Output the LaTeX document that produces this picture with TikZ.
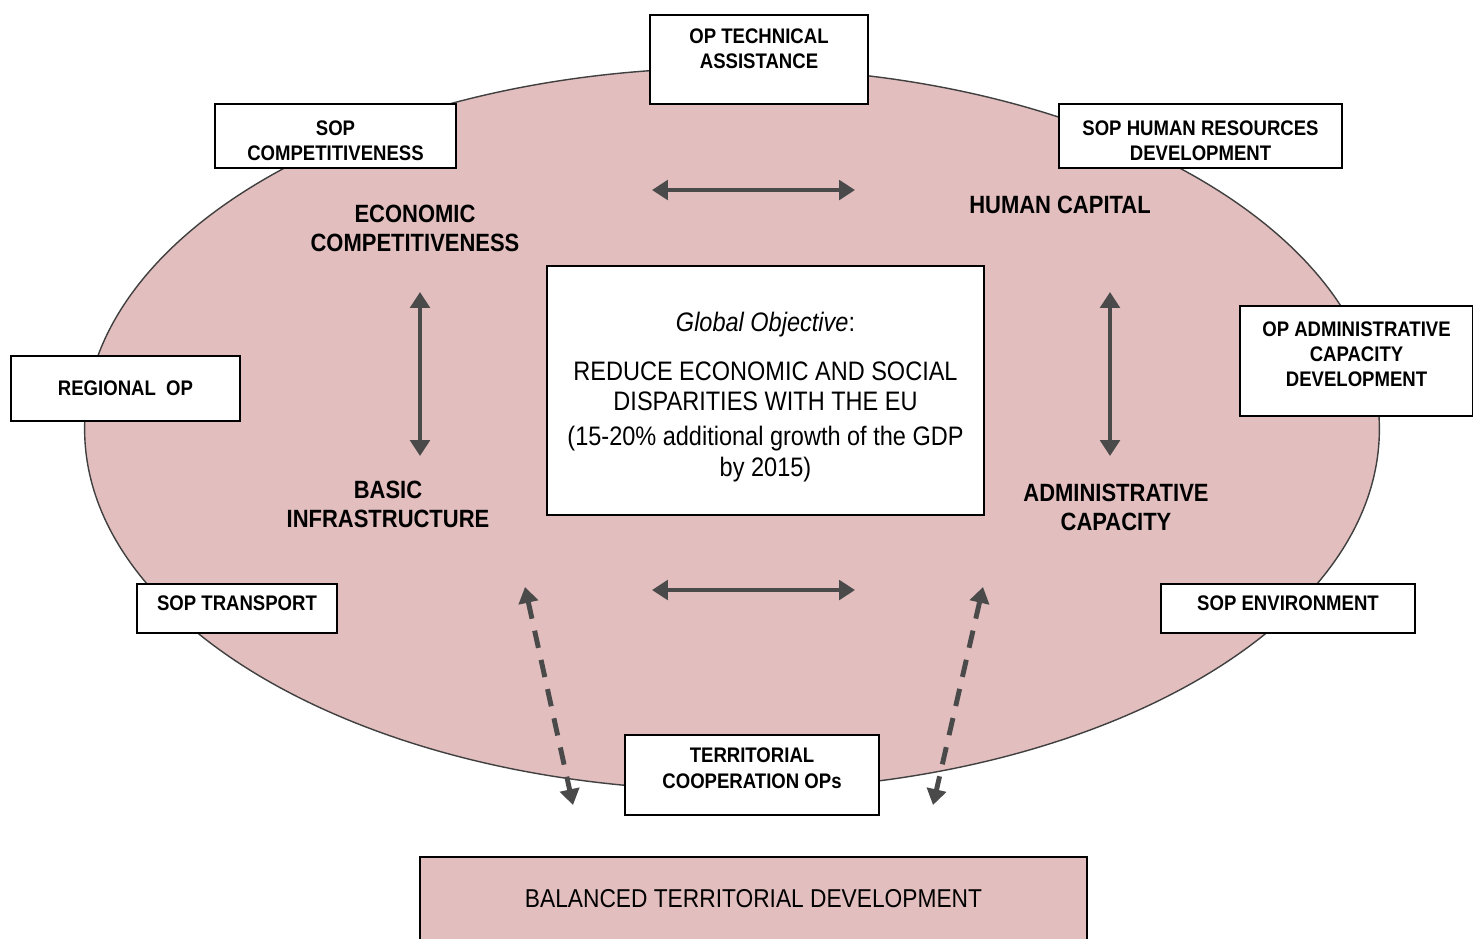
\documentclass[tikz,border=0pt]{standalone}
\usepackage{fontspec}
\setmainfont{Liberation Sans}[FakeStretch=0.88]
\usetikzlibrary{arrows.meta, shapes.geometric}
\definecolor{ovalpink}{HTML}{E2BEBE}
\definecolor{arrowgray}{HTML}{4A4A4A}
\newcommand{\topgap}[1]{\rule{0pt}{#1}}

\begin{document}
\begin{tikzpicture}[
    x=0.01cm, y=-0.01cm,
    opbox/.style={rectangle, draw=black, line width=0.6pt, fill=white, align=center, inner sep=0pt, font=\fontsize{6}{7.2}\selectfont\bfseries},
    goalbox/.style={rectangle, draw=black, line width=0.7pt, fill=white, align=center, inner sep=0pt, minimum width=4.37cm, minimum height=2.49cm, font=\fontsize{7.6}{8.8}\selectfont},
    pillar/.style={align=center, font=\fontsize{7.1}{8.3}\selectfont\bfseries},
    dblarrow/.style={{Triangle[length=4.5pt,width=5.5pt]}-{Triangle[length=4.5pt,width=5.5pt]}, line width=1.4pt, draw=arrowgray},
    dasharrow/.style={dblarrow, dash pattern=on 5pt off 3.5pt}
]
\useasboundingbox (0,0) rectangle (1473,938);
\clip (0,0) rectangle (1473,938);

% Oval
\node[ellipse, draw=black!75, line width=0.4pt, fill=ovalpink, minimum width=12.94cm, minimum height=7.22cm, inner sep=0pt] (oval) at (732,429) {};

% Nodes
\node[goalbox] (goal) at (765.5,390.5) {\topgap{9.1pt}\textit{Global Objective}:\\[5pt]
  REDUCE ECONOMIC AND SOCIAL\\ DISPARITIES WITH THE EU\\[0.9pt]
  (15-20\% additional growth of the GDP\\ by 2015)};

\node[pillar] (econ) at (415,228) {ECONOMIC\\COMPETITIVENESS};
\node[pillar] (human) at (1060,205) {HUMAN CAPITAL};
\node[pillar] (infra) at (388,504) {BASIC\\INFRASTRUCTURE};
\node[pillar] (admin) at (1116,507) {ADMINISTRATIVE\\CAPACITY};

% Programme boxes
\node[opbox, minimum width=2.18cm, minimum height=0.89cm, text depth=6.2pt] (optech) at (759,59.5) {OP TECHNICAL\\ASSISTANCE};
\node[opbox, minimum width=2.41cm, minimum height=0.64cm] (sopcomp) at (335.5,136) {\topgap{7pt}SOP\\COMPETITIVENESS};
\node[opbox, minimum width=2.83cm, minimum height=0.64cm] (sophrd) at (1200.5,136) {\topgap{7pt}SOP HUMAN RESOURCES\\DEVELOPMENT};
\node[opbox, minimum width=2.29cm, minimum height=0.65cm] (regop) at (125.5,388.5) {REGIONAL~~OP};
\node[opbox, minimum width=2.33cm, minimum height=1.10cm, text depth=4pt] (opacd) at (1356.5,361) {OP ADMINISTRATIVE\\CAPACITY\\DEVELOPMENT};
\node[opbox, minimum width=2.00cm, minimum height=0.49cm, text depth=2.8pt] (soptrans) at (237,608.5) {SOP TRANSPORT};
\node[opbox, minimum width=2.54cm, minimum height=0.49cm, text depth=2.8pt] (sopenv) at (1288,608.5) {SOP ENVIRONMENT};
\node[opbox, minimum width=2.54cm, minimum height=0.80cm, text depth=4pt] (terrcoop) at (752,775) {TERRITORIAL\\COOPERATION OPs};
\node[opbox, fill=ovalpink, minimum width=6.67cm, minimum height=0.84cm, font=\fontsize{7.35}{9}\selectfont] (balanced) at (753.5,899) {BALANCED TERRITORIAL DEVELOPMENT};

% Arrow ends
\coordinate (topL) at (652,190);
\coordinate (topR) at (855,190);
\coordinate (botL) at (652,590);
\coordinate (botR) at (855,590);
\coordinate (leftT) at (420,292);
\coordinate (leftB) at (420,456);
\coordinate (rightT) at (1110,292);
\coordinate (rightB) at (1110,456);
\coordinate (dashLT) at (525,587);
\coordinate (dashLB) at (573,805);
\coordinate (dashRT) at (983,587);
\coordinate (dashRB) at (933,805);

% Arrows
\draw[dblarrow] (topL) -- (topR);
\draw[dblarrow] (botL) -- (botR);
\draw[dblarrow] (leftT) -- (leftB);
\draw[dblarrow] (rightT) -- (rightB);
\draw[dasharrow] (dashLT) -- (dashLB);
\draw[dasharrow] (dashRT) -- (dashRB);

\end{tikzpicture}
\end{document}
